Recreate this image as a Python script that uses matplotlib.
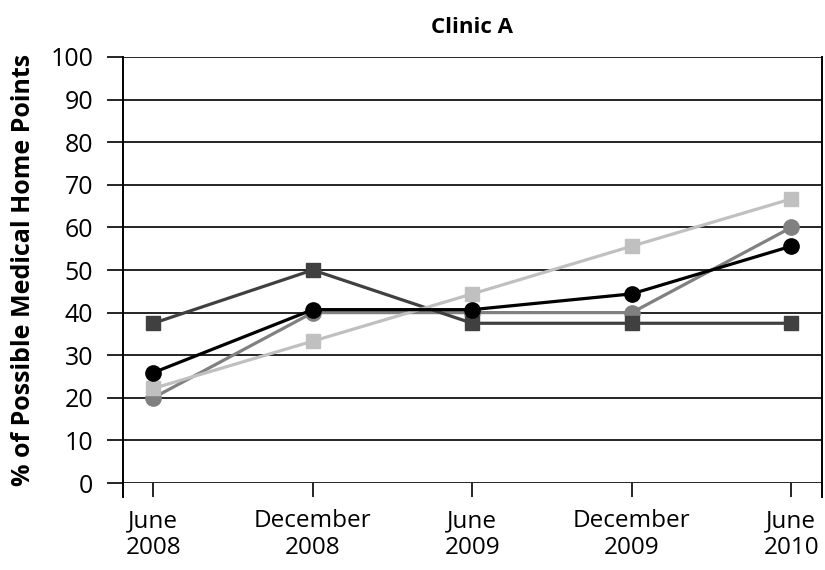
import matplotlib
matplotlib.use('Agg')
import matplotlib.pyplot as plt

plt.rcParams['font.family'] = ['Open Sans', 'DejaVu Sans']

categories = ['June\n2008', 'December\n2008', 'June\n2009', 'December\n2009', 'June\n2010']
dark_squares = [37.5, 50.0, 37.5, 37.5, 37.5]
light_squares = [22.2, 33.3, 44.4, 55.6, 66.7]
gray_circles = [20.0, 40.0, 40.0, 40.0, 60.0]
black_circles = [25.9, 40.7, 40.7, 44.4, 55.6]
y_ticks = list(range(0, 101, 10))

fig = plt.figure(figsize=(8.25, 5.7), dpi=100)
ax = fig.add_axes([0.149, 0.1526, 0.847, 0.7474])

x = range(len(categories))
ax.plot(x, gray_circles, color='#808080', lw=2.3, marker='o', ms=11, zorder=3)
ax.plot(x, dark_squares, color='#404040', lw=2.3, marker='s', ms=10.5, zorder=4)
ax.plot(x, light_squares, color='#c0c0c0', lw=2.3, marker='s', ms=10.5, zorder=5)
ax.plot(x, black_circles, color='#000000', lw=2.3, marker='o', ms=11, zorder=6)

ax.set_xlim(-0.19, 4.19)
ax.set_ylim(0, 100)
ax.set_yticks(y_ticks)
ax.set_xticks(list(x))
ax.set_xticklabels(categories, fontsize=17.5, linespacing=1.15)
ax.tick_params(axis='y', length=11.5, width=1.2, labelsize=18, pad=10)
ax.tick_params(axis='x', length=10, width=1.2, pad=9)
ax.yaxis.grid(True, color='black', lw=1.2)
ax.set_axisbelow(True)

for s in ['top', 'bottom']:
    ax.spines[s].set_visible(False)
for s in ['left', 'right']:
    ax.spines[s].set_linewidth(1.4)

# spines run a bit below the zero line
ext = 14 / (0.7474 * 570)
for xs in (0, 1):
    ax.plot([xs, xs], [-ext, 0], transform=ax.transAxes, color='black',
            lw=1.4, clip_on=False)

ax.set_title('Clinic A', fontsize=16, fontweight='bold', pad=17)
ax.set_ylabel('% of Possible Medical Home Points', fontsize=18, fontweight='bold', labelpad=10)

fig.savefig('out.png', dpi=100)
